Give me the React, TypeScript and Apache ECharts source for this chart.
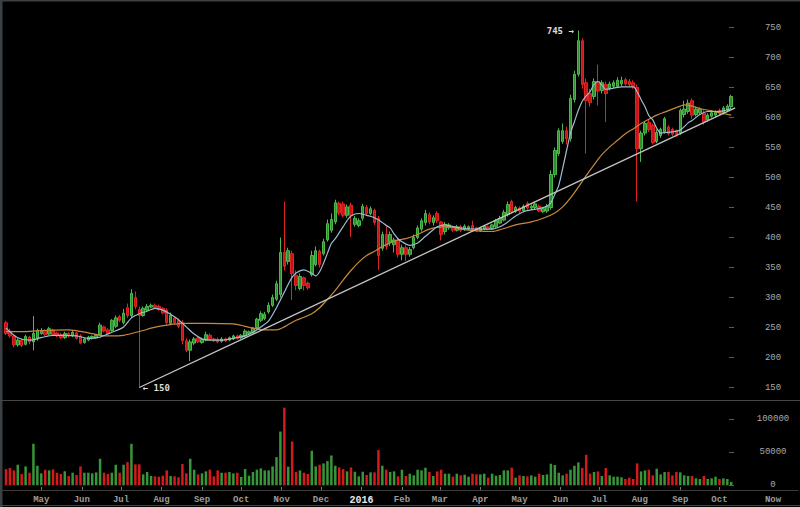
import React, { useEffect, useRef } from "react";
import * as echarts from "echarts";

// ---- data (3-day candles) ----
const startDate = "2015-04-04";
const candleDays = 3;

// [open, close, low, high]
const candles: number[][] = [
  [258, 240, 237, 261], [244, 236, 233, 248], [236, 221, 217, 239], [221, 229, 218, 232], [229, 220, 217, 231],
  [222, 235, 220, 238], [234, 226, 222, 236], [226, 240, 212, 269], [231, 245, 228, 248], [240, 245, 238, 249],
  [245, 238, 236, 247], [239, 248, 237, 251], [246, 238, 236, 248], [241, 236, 234, 243], [238, 233, 231, 241],
  [233, 240, 231, 243], [240, 236, 233, 242], [236, 242, 234, 245], [241, 232, 230, 243], [236, 224, 222, 239],
  [225, 231, 223, 233], [229, 234, 227, 236], [232, 235, 230, 237], [233, 237, 231, 239], [238, 254, 236, 258],
  [251, 244, 242, 253], [246, 240, 238, 249], [245, 262, 243, 264], [252, 266, 249, 270], [268, 262, 259, 271],
  [258, 274, 255, 281], [283, 270, 266, 290], [270, 307, 266, 314], [300, 285, 280, 310], [280, 270, 150, 285],
  [270, 282, 268, 285], [279, 285, 276, 289], [284, 287, 282, 290], [287, 283, 281, 290], [285, 280, 278, 288],
  [282, 274, 272, 284], [279, 258, 255, 282], [257, 270, 254, 275], [266, 258, 255, 268], [262, 252, 249, 265],
  [258, 228, 222, 262], [228, 212, 209, 232], [212, 226, 194, 230], [224, 231, 221, 234], [232, 226, 224, 234],
  [225, 230, 223, 233], [229, 238, 227, 243], [237, 230, 228, 240], [231, 228, 226, 233], [230, 226, 224, 233],
  [227, 231, 225, 234], [231, 228, 226, 233], [229, 233, 227, 235], [231, 236, 229, 238], [236, 232, 230, 238],
  [233, 237, 231, 239], [236, 244, 234, 247], [240, 243, 238, 245], [242, 249, 240, 251], [250, 264, 247, 266],
  [262, 273, 259, 277], [265, 272, 262, 276], [276, 287, 273, 292], [287, 300, 284, 305], [297, 323, 294, 328],
  [305, 375, 300, 400], [375, 352, 345, 460], [360, 378, 355, 383], [373, 340, 296, 378], [337, 320, 312, 345],
  [315, 335, 312, 340], [333, 320, 312, 335], [324, 316, 313, 327], [338, 370, 335, 378], [355, 378, 352, 385],
  [377, 355, 350, 380], [373, 393, 370, 398], [396, 423, 393, 430], [412, 430, 408, 440], [426, 458, 422, 463],
  [457, 441, 437, 460], [456, 437, 434, 460], [437, 451, 433, 455], [454, 437, 401, 458], [422, 432, 418, 436],
  [420, 428, 417, 432], [432, 452, 428, 456], [450, 440, 436, 454], [440, 448, 437, 452], [445, 425, 421, 448],
  [432, 370, 346, 436], [382, 405, 378, 410], [405, 385, 380, 418], [392, 405, 386, 410], [388, 396, 375, 400],
  [395, 372, 367, 398], [372, 383, 362, 388], [383, 372, 361, 387], [372, 380, 368, 384], [383, 400, 380, 405],
  [400, 416, 397, 420], [414, 428, 410, 432], [425, 440, 420, 446], [438, 426, 422, 442], [425, 433, 420, 437],
  [440, 428, 424, 444], [426, 405, 395, 428], [410, 422, 405, 426], [416, 421, 413, 424], [418, 412, 409, 420],
  [412, 418, 410, 421], [418, 412, 409, 421], [413, 419, 411, 422], [414, 418, 412, 420], [420, 413, 410, 428],
  [416, 411, 409, 418], [411, 416, 409, 418], [414, 419, 412, 421], [418, 414, 412, 420], [415, 421, 413, 423],
  [418, 428, 416, 431], [424, 432, 422, 436], [429, 442, 427, 446], [438, 455, 435, 460], [460, 443, 440, 463],
  [444, 450, 441, 453], [449, 444, 441, 452], [445, 452, 442, 455], [457, 449, 446, 460], [449, 452, 446, 455],
  [450, 456, 447, 459], [452, 444, 442, 455], [443, 448, 441, 451], [444, 452, 441, 456], [450, 505, 446, 512],
  [505, 545, 500, 550], [540, 578, 536, 582], [560, 578, 556, 590], [578, 565, 555, 585], [565, 632, 560, 638],
  [630, 672, 625, 678], [672, 728, 668, 745], [728, 655, 648, 732], [658, 628, 540, 665], [640, 625, 618, 648],
  [635, 660, 630, 665], [660, 644, 620, 688], [645, 658, 640, 662], [655, 640, 592, 660], [648, 656, 645, 660],
  [652, 658, 649, 662], [652, 662, 650, 667], [656, 662, 652, 668], [663, 656, 653, 666], [660, 655, 651, 664],
  [658, 652, 648, 662], [650, 548, 460, 655], [548, 574, 526, 578], [574, 590, 570, 594], [592, 580, 576, 597],
  [587, 558, 555, 590], [560, 575, 557, 580], [570, 580, 566, 583], [576, 598, 573, 601], [584, 573, 570, 587],
  [580, 572, 569, 583], [578, 572, 568, 580], [574, 612, 571, 615], [605, 614, 600, 628], [610, 624, 606, 630],
  [628, 604, 598, 632], [605, 614, 602, 618], [608, 614, 605, 617], [607, 592, 588, 612], [596, 604, 593, 607],
  [602, 608, 600, 612], [604, 610, 601, 612], [612, 607, 604, 615], [608, 616, 605, 619], [612, 619, 609, 622],
  [618, 635, 615, 638],
];

const volumes = [
  24500, 26000, 22500, 31000, 17000, 28500, 19000, 62600, 29500, 18000,
  23500, 22500, 24000, 19000, 17000, 21000, 14000, 19000, 15500, 28500,
  19000, 19000, 18000, 19500, 40000, 19000, 17000, 19000, 31000, 19000,
  31000, 35000, 62600, 31500, 31500, 16500, 20000, 14000, 13500, 13000,
  14500, 22500, 14000, 13500, 12000, 32000, 18000, 40000, 23500, 16500,
  18000, 21000, 23500, 13500, 22500, 19000, 19000, 20000, 18000, 19000,
  12500, 24500, 14500, 20000, 23500, 25500, 22500, 22500, 28500, 42500,
  81000, 117000, 28000, 66000, 20000, 22500, 19000, 17000, 52000, 28500,
  31000, 33000, 36500, 45000, 29500, 27000, 24500, 21000, 27000, 20500,
  13500, 20500, 15500, 19500, 19500, 53000, 29500, 23500, 20000, 21000,
  13500,
  23500, 14000, 17500, 15000, 23500, 22500, 26500, 20000, 14000, 21000,
  23500, 17500, 17500, 13000, 17500, 15000, 16000, 13000, 17500, 16500,
  16500, 17500, 11500, 17500, 14500, 15500, 22500, 22500, 26500, 11500,
  15000, 14000, 13500, 15000, 13000, 17500, 15500, 16500, 32500, 30500,
  19000, 15000, 17500, 23500, 29500, 34500, 26000, 46000, 17500, 20000,
  21000, 14000, 26000, 15000, 13000, 13000, 12000, 9500, 11500, 9500,
  33000, 21000, 22500, 23500, 15000, 25000, 16500, 20000, 20000, 15000,
  20000, 19500, 15000, 14000, 14000, 10500, 9500, 14000, 9500, 10500,
  13000, 9500, 10500, 9500, 5000,
];

// moving averages: [candle index, value]
const fastMA: number[][] = [
  [0, 249], [3, 233], [6, 229], [9, 233], [12, 237], [15, 237], [18, 236], [21, 232], [24, 234], [27, 242],
  [30, 251], [32, 266], [34, 273], [36, 277], [38, 282], [40, 279], [42, 272], [44, 263], [46, 251], [48, 239],
  [50, 231], [52, 229], [55, 229], [58, 232], [61, 236], [63, 242], [65, 251], [67, 261], [69, 283], [70, 296],
  [71, 309], [72, 322], [73, 334], [74, 341], [76, 346], [78, 340], [79, 336], [80, 343], [81, 357], [82, 374],
  [83, 390], [84, 398], [85, 408], [86, 418], [87, 428], [88, 436], [90, 440], [92, 437], [94, 433], [96, 425],
  [97, 420], [98, 416], [99, 406], [100, 398], [101, 393], [103, 387], [105, 391], [107, 402], [109, 413], [110, 418],
  [112, 421], [114, 418], [117, 415], [121, 414], [124, 414], [126, 418], [128, 426], [130, 436], [132, 443], [134, 446],
  [136, 448], [138, 452], [139, 458], [140, 472], [141, 487], [142, 515], [143, 545], [144, 574], [145, 593], [146, 612],
  [147, 627], [148, 636], [149, 643], [150, 655], [151, 660], [152, 654], [153, 647], [155, 649], [157, 651], [160, 651],
  [161, 643], [162, 630], [163, 618], [164, 603], [165, 596], [166, 582], [167, 574], [168, 575], [170, 576], [172, 579],
  [174, 591], [175, 595], [177, 605], [179, 610], [181, 610], [183, 611], [185, 615],
];

const slowMA: number[][] = [
  [0, 243], [4, 243], [9, 245], [16, 246], [21, 241], [24, 237], [27, 236], [30, 237], [32, 240], [35, 245],
  [37, 249], [41, 254], [45, 257], [51, 257], [58, 256], [61, 252], [63, 249], [66, 246], [69, 246], [71, 251],
  [72, 255], [74, 262], [76, 267], [78, 273], [80, 283], [82, 297], [84, 312], [86, 329], [88, 345], [90, 359],
  [92, 370], [94, 377], [96, 385], [98, 391], [100, 396], [102, 398], [105, 405], [108, 414], [110, 417], [113, 418],
  [116, 414], [120, 411], [124, 410], [127, 415], [130, 421], [134, 426], [137, 432], [140, 441], [142, 451], [144, 466],
  [146, 484], [148, 503], [150, 521], [152, 538], [154, 551], [156, 562], [158, 573], [160, 581], [162, 590], [164, 597],
  [166, 604], [168, 609], [170, 614], [172, 619], [173, 621], [175, 619], [177, 615], [180, 611], [182, 608], [185, 604],
];

// support line from the 150 low: [candle index, value]
const trendLine: number[][] = [[34, 150], [186, 616]];

const tickDates = [
  "2015-05-01", "2015-06-01", "2015-07-01", "2015-08-01", "2015-09-01", "2015-10-01", "2015-11-01",
  "2015-12-01", "2016-01-01", "2016-02-01", "2016-03-01", "2016-04-01", "2016-05-01", "2016-06-01",
  "2016-07-01", "2016-08-01", "2016-09-01", "2016-10-01",
];
const tickLabels = [
  "May", "Jun", "Jul", "Aug", "Sep", "Oct", "Nov", "Dec", "2016", "Feb", "Mar", "Apr", "May", "Jun",
  "Jul", "Aug", "Sep", "Oct",
];
const nowDate = "2016-11-11";
const nowLabel = "Now";

const priceTicks = [150, 200, 250, 300, 350, 400, 450, 500, 550, 600, 650, 700, 750];
const volumeTicks = [0, 50000, 100000];

const peakNote = { index: 146, value: 745, text: "745 \u2192" };
const lowNote = { index: 34, value: 150, text: "\u2190 150" };

const MONO = "'Liberation Mono', 'DejaVu Sans Mono', monospace";
const NOTE_FONT = "'DejaVu Sans Mono', 'DejaVu Sans', monospace";
const UP = "#2f8f2f";
const UP_EDGE = "#4cb84c";
const DOWN = "#c81414";
const DOWN_EDGE = "#e02424";

const PRICE_MIN = 132.5;
const PRICE_MAX = 792.5;
const VOL_MIN = -7085;
const VOL_MAX = 125575;

export default function App() {
  const ref = useRef<HTMLDivElement>(null);

  useEffect(() => {
    if (!ref.current) return;
    const chart = echarts.init(ref.current, null, { renderer: "svg" });
    const DAY = 86400000;
    const t0 = Date.parse(startDate);
    // x values are days since startDate
    const at = (i: number) => i * candleDays;
    const dayOf = (s: string) => (Date.parse(s) - t0) / DAY;
    const xMin = -3.06;
    const xMax = 606.1;

    const tickPos = tickDates.map(dayOf);
    const nowPos = dayOf(nowDate);
    const labelFor = (v: number) => {
      if (Math.abs(v - nowPos) < 0.5) return nowLabel;
      let best = 0;
      let bd = Infinity;
      tickPos.forEach((t, k) => {
        const d = Math.abs(t - v);
        if (d < bd) { bd = d; best = k; }
      });
      const s = tickLabels[best];
      return /^\d{4}$/.test(s) ? `{y|${s}}` : s;
    };

    const scaleAxis = (grid: number, min: number, max: number, ticks: number[]) => ({
      type: "value", gridIndex: grid, position: "right", min, max,
      axisLine: { show: false },
      axisTick: { show: true, inside: true, length: 5, customValues: ticks, lineStyle: { color: "#5a5a5a" } },
      axisLabel: {
        customValues: ticks, margin: 34, align: "center", color: "#a8a8a8",
        fontFamily: MONO, fontSize: 9, formatter: (v: number) => String(v),
      },
      splitLine: { show: false },
    });

    const option: any = {
      animation: false,
      backgroundColor: "#000000",
      grid: [
        { left: 2, right: 2, top: 2, height: 396 },
        { left: 2, right: 2, top: 402, height: 88 },
        // narrow holders for the right-hand scales
        { left: 734, right: 61, top: 2, height: 396 },
        { left: 734, right: 61, top: 402, height: 88 },
      ],
      xAxis: [
        { type: "value", gridIndex: 0, min: xMin, max: xMax, show: false, splitLine: { show: false } },
        {
          type: "value", gridIndex: 1, min: xMin, max: xMax,
          axisLine: { show: true, onZero: false, lineStyle: { color: "#3c3c3c", width: 1 } },
          axisTick: { show: true, inside: true, length: 3, customValues: tickPos, lineStyle: { color: "#777" } },
          axisLabel: {
            customValues: [...tickPos, nowPos],
            formatter: (v: number) => labelFor(v),
            margin: 5,
            color: "#9c9c9c",
            fontFamily: MONO,
            fontSize: 9,
            fontWeight: "bold",
            hideOverlap: false,
            rich: { y: { color: "#e6e6e6", fontFamily: MONO, fontSize: 10, fontWeight: "bold" } },
          },
          splitLine: { show: false },
        },
        { type: "value", gridIndex: 2, min: 0, max: 1, show: false, splitLine: { show: false } },
        { type: "value", gridIndex: 3, min: 0, max: 1, show: false, splitLine: { show: false } },
      ],
      yAxis: [
        { type: "value", gridIndex: 0, min: PRICE_MIN, max: PRICE_MAX, show: false, splitLine: { show: false } },
        { type: "value", gridIndex: 1, min: VOL_MIN, max: VOL_MAX, show: false, splitLine: { show: false } },
        scaleAxis(2, PRICE_MIN, PRICE_MAX, priceTicks),
        scaleAxis(3, VOL_MIN, VOL_MAX, volumeTicks),
      ],
      graphic: [
        { type: "rect", shape: { x: 0, y: 0, width: 800, height: 1.5 }, style: { fill: "#3a4044" }, silent: true },
        { type: "rect", shape: { x: 0, y: 0, width: 2.5, height: 507 }, style: { fill: "#3a4044" }, silent: true },
        { type: "line", shape: { x1: 0, y1: 400.5, x2: 800, y2: 400.5 }, style: { stroke: "#464646", lineWidth: 1 }, silent: true },
        { type: "line", shape: { x1: 0, y1: 505.5, x2: 800, y2: 505.5 }, style: { stroke: "#464646", lineWidth: 1 }, silent: true },
      ],
      series: [
        {
          type: "candlestick",
          xAxisIndex: 0, yAxisIndex: 0,
          barWidth: 3,
          encode: { x: 0, y: [1, 2, 3, 4] },
          data: candles.map((c, i) => [at(i), c[0], c[1], c[2], c[3]]),
          itemStyle: { color: UP, color0: DOWN, borderColor: UP_EDGE, borderColor0: DOWN_EDGE, borderWidth: 1 },
          markPoint: {
            symbol: "circle",
            symbolSize: 1,
            itemStyle: { color: "rgba(0,0,0,0)" },
            label: { show: true, color: "#dddddd", fontFamily: NOTE_FONT, fontSize: 9, fontWeight: "bold" },
            data: [
              { coord: [at(peakNote.index), peakNote.value], label: { position: "left", distance: 4, formatter: peakNote.text } },
              { coord: [at(lowNote.index), lowNote.value], label: { position: "right", distance: 3, formatter: lowNote.text } },
            ],
          },
        },
        {
          type: "line", xAxisIndex: 0, yAxisIndex: 0, symbol: "none", smooth: 0.3,
          data: slowMA.map(([i, v]) => [at(i), v]),
          lineStyle: { color: "#c8893c", width: 1.2 },
        },
        {
          type: "line", xAxisIndex: 0, yAxisIndex: 0, symbol: "none", smooth: 0.3,
          data: fastMA.map(([i, v]) => [at(i), v]),
          lineStyle: { color: "#9fbdd2", width: 1.2 },
        },
        {
          type: "line", xAxisIndex: 0, yAxisIndex: 0, symbol: "none",
          data: trendLine.map(([i, v]) => [at(i), v]),
          lineStyle: { color: "#c4c4c4", width: 1.3 },
        },
        {
          type: "bar", xAxisIndex: 1, yAxisIndex: 1, barWidth: 2.5,
          data: volumes.map((v, i) => ({
            value: [at(i), v],
            itemStyle: { color: candles[i][1] >= candles[i][0] ? "#37963a" : "#d41a1a" },
          })),
        },
      ],
    };

    chart.setOption(option);
    return () => chart.dispose();
  }, []);

  return (
    <div
      ref={ref}
      style={{ position: "absolute", left: 0, top: 0, width: 800, height: 507, background: "#000" }}
    />
  );
}
